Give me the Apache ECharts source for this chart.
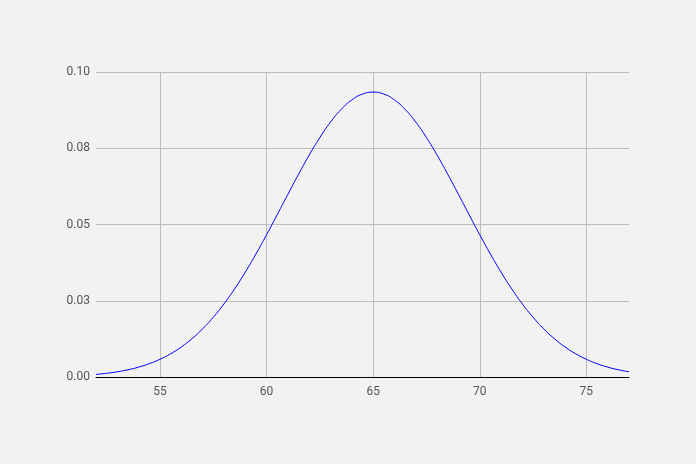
<!DOCTYPE html>
<html><head><meta charset="utf-8">
<script src="https://cdn.jsdelivr.net/npm/echarts@6/dist/echarts.min.js"></script>
<style>html,body{margin:0;padding:0;background:#f2f2f2}#c{width:696px;height:464px}</style>
</head><body><div id="c"></div>
<script>
const xValues = [52,52.5,53,53.5,54,54.5,55,55.5,56,56.5,57,57.5,58,58.5,59,59.5,60,60.5,61,61.5,62,62.5,63,63.5,64,64.5,65,65.5,66,66.5,67,67.5,68,68.5,69,69.5,70,70.5,71,71.5,72,72.5,73,73.5,74,74.5,75,75.5,76,76.5,77];
const density = [0.00085,0.00122,0.00171,0.00237,0.00324,0.00437,0.00581,0.00761,0.00984,0.01255,0.01579,0.01958,0.02395,0.02888,0.03436,0.04031,0.04664,0.05322,0.05989,0.06646,0.07274,0.07851,0.08357,0.08774,0.09084,0.09276,0.0934,0.09276,0.09084,0.08774,0.08357,0.07851,0.07274,0.06646,0.05989,0.05322,0.04664,0.04031,0.03436,0.02888,0.02395,0.01958,0.01579,0.01255,0.00984,0.00761,0.00581,0.00437,0.00324,0.00237,0.00171];
const xTicks = [55,60,65,70,75];
const yTickLabels = ['0.00','0.03','0.05','0.08','0.10'];
const chart = echarts.init(document.getElementById('c'));
chart.setOption({
  backgroundColor:'#f2f2f2',
  animation:false,
  grid:{left:96,right:67,top:72,bottom:87},
  xAxis:{type:'value',min:52,max:77,
    axisLine:{show:true,lineStyle:{color:'#000',width:1}},
    axisTick:{show:false,customValues:xTicks},
    axisLabel:{customValues:xTicks,color:'#555',fontFamily:'Roboto',fontSize:12,margin:9},
    splitLine:{show:true,lineStyle:{color:'#bdbdbd',width:1}}},
  yAxis:{type:'value',min:0,max:0.1,interval:0.025,
    axisLine:{show:false},axisTick:{show:false},
    axisLabel:{color:'#555',fontFamily:'Roboto',fontSize:12,margin:6,
      formatter:v=>yTickLabels[Math.round(v/0.025)]},
    splitLine:{show:true,lineStyle:{color:'#bdbdbd',width:1}}},
  series:[{type:'line',data:xValues.map((x,i)=>[x,density[i]]),smooth:true,showSymbol:false,
    lineStyle:{color:'#0000ff',width:1},z:3}]
});
</script></body></html>
